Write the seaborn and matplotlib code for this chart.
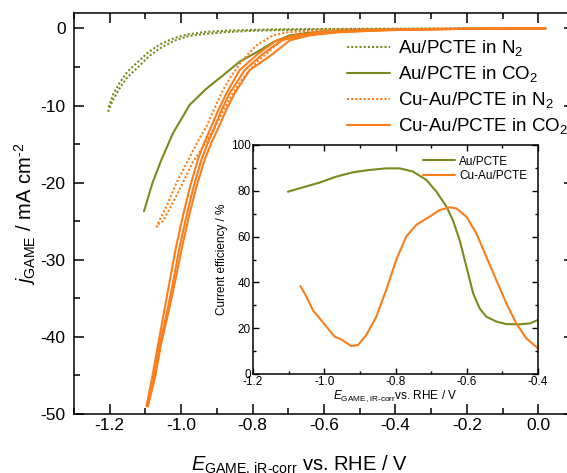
import numpy as np
import pandas as pd
import matplotlib
matplotlib.use("Agg")
import matplotlib.pyplot as plt
from matplotlib.ticker import MultipleLocator
import seaborn as sns

# ---------------- data ----------------
# Au/PCTE in N2 (two scans, dotted)
au_n2_x1 = [-1.205, -1.19, -1.17, -1.15, -1.12, -1.09, -1.06, -1.02, -0.98, -0.93, -0.88, -0.80, -0.70, -0.50, -0.30, 0.02]
au_n2_y1 = [-10.8, -9.2, -7.6, -6.3, -5.0, -3.6, -2.6, -1.6, -1.0, -0.7, -0.5, -0.3, -0.2, -0.1, -0.05, 0.0]
au_n2_x2 = [-1.203, -1.19, -1.17, -1.15, -1.12, -1.09, -1.06, -1.02, -0.98, -0.93, -0.88, -0.80, -0.70, -0.50, -0.30, 0.02]
au_n2_y2 = [-10.2, -8.5, -6.9, -5.6, -4.3, -3.0, -2.1, -1.25, -0.75, -0.45, -0.3, -0.18, -0.1, -0.05, -0.02, 0.0]

# Au/PCTE in CO2 (solid)
au_co2_x = [-1.104, -1.080, -1.055, -1.023, -0.976, -0.929, -0.883, -0.836, -0.789, -0.743, -0.696, -0.65, -0.60, -0.50, -0.40, -0.30, -0.20, -0.10, 0.02]
au_co2_y = [-23.7, -20.0, -17.0, -13.6, -9.9, -7.8, -6.1, -4.3, -3.1, -1.8, -0.9, -0.6, -0.4, -0.25, -0.15, -0.1, -0.05, -0.03, 0.0]

# Cu-Au/PCTE in N2 (two scans, dotted)
cuau_n2_x1 = [-1.069, -1.060, -1.041, -1.013, -0.985, -0.955, -0.929, -0.905, -0.883, -0.860, -0.836, -0.810, -0.789, -0.743, -0.70, -0.60, -0.40, -0.20, 0.02]
cuau_n2_y1 = [-25.8, -24.8, -23.1, -20.0, -17.5, -14.8, -12.7, -10.2, -8.0, -6.2, -4.6, -3.2, -2.2, -0.9, -0.5, -0.2, -0.08, -0.03, 0.0]
cuau_n2_x2 = [-1.065, -1.051, -1.023, -0.995, -0.967, -0.948, -0.925, -0.901, -0.878, -0.855, -0.832, -0.808, -0.785, -0.761, -0.738, -0.715, -0.68, -0.62, -0.50, -0.30, 0.02]
cuau_n2_y2 = [-25.4, -25.0, -22.6, -20.0, -17.3, -16.0, -14.3, -12.4, -10.3, -8.4, -6.8, -5.4, -4.2, -3.3, -2.3, -1.5, -0.9, -0.45, -0.2, -0.08, 0.0]

# Cu-Au/PCTE in CO2 (three scans, solid)
cuau_co2_y = [-49.0, -45.0, -41.1, -37.3, -33.5, -28.5, -24.3, -20.5, -17.0, -14.8, -13.2, -10.5, -8.4, -5.4, -3.3, -1.55, -0.9, -0.5, -0.3, -0.15, -0.05, 0.0]
cuau_co2_x1 = [-1.097, -1.080, -1.065, -1.050, -1.035, -1.015, -0.995, -0.975, -0.953, -0.935, -0.920, -0.895, -0.873, -0.836, -0.785, -0.733, -0.68, -0.60, -0.50, -0.40, -0.20, 0.02]
cuau_co2_x2 = [-1.095, -1.075, -1.060, -1.042, -1.025, -1.005, -0.985, -0.965, -0.943, -0.925, -0.910, -0.886, -0.864, -0.822, -0.771, -0.719, -0.66, -0.58, -0.48, -0.38, -0.20, 0.02]
cuau_co2_x3 = [-1.093, -1.072, -1.057, -1.038, -1.020, -0.998, -0.978, -0.957, -0.934, -0.915, -0.899, -0.873, -0.850, -0.808, -0.743, -0.696, -0.64, -0.56, -0.46, -0.36, -0.18, 0.02]

# Inset: current efficiency
ce_au_x = [-1.102, -1.060, -1.013, -0.966, -0.919, -0.873, -0.826, -0.788, -0.751, -0.713, -0.685, -0.657, -0.639, -0.620, -0.601, -0.582, -0.564, -0.545, -0.517, -0.489, -0.451, -0.423, -0.400]
ce_au_y = [79.6, 81.5, 83.6, 86.2, 88.1, 89.1, 89.8, 89.8, 88.4, 84.7, 79.6, 73.1, 67.2, 58.5, 46.9, 35.2, 28.7, 25.0, 22.9, 21.8, 21.7, 22.1, 23.6]
ce_cuau_x = [-1.067, -1.050, -1.032, -1.013, -0.994, -0.971, -0.952, -0.924, -0.905, -0.882, -0.854, -0.826, -0.798, -0.770, -0.742, -0.704, -0.676, -0.648, -0.629, -0.601, -0.573, -0.545, -0.517, -0.489, -0.461, -0.433, -0.400]
ce_cuau_y = [38.4, 33.8, 27.9, 24.3, 20.7, 16.3, 15.1, 12.2, 12.7, 17.0, 25.0, 36.7, 49.8, 60.0, 65.1, 68.7, 71.6, 72.8, 72.3, 68.7, 61.4, 51.2, 41.0, 30.9, 22.1, 15.6, 11.2]

labels = ["Au/PCTE in N$_2$", "Au/PCTE in CO$_2$", "Cu-Au/PCTE in N$_2$", "Cu-Au/PCTE in CO$_2$"]
inset_labels = ["Au/PCTE", "Cu-Au/PCTE"]

# ---------------- build tables ----------------
traces = [
    (labels[0], "a", au_n2_x1, au_n2_y1),
    (labels[0], "b", au_n2_x2, au_n2_y2),
    (labels[1], "a", au_co2_x, au_co2_y),
    (labels[2], "a", cuau_n2_x1, cuau_n2_y1),
    (labels[2], "b", cuau_n2_x2, cuau_n2_y2),
    (labels[3], "a", cuau_co2_x1, cuau_co2_y),
    (labels[3], "b", cuau_co2_x2, cuau_co2_y),
    (labels[3], "c", cuau_co2_x3, cuau_co2_y),
]
rows = []
for lab, scan, xs, ys in traces:
    for i, (xv, yv) in enumerate(zip(xs, ys)):
        rows.append({"E": xv, "j": yv, "series": lab, "scan": lab + scan, "i": i})
df = pd.DataFrame(rows)

rows2 = []
for lab, xs, ys in [(inset_labels[0], ce_au_x, ce_au_y), (inset_labels[1], ce_cuau_x, ce_cuau_y)]:
    for xv, yv in zip(xs, ys):
        rows2.append({"E": xv, "CE": yv, "series": lab})
df2 = pd.DataFrame(rows2)

OLIVE = "#7b8a1f"
ORANGE = "#fb7d1c"

# ---------------- style ----------------
sns.set_style("ticks")
plt.rcParams["font.family"] = ["Liberation Sans", "DejaVu Sans"]
plt.rcParams["mathtext.fontset"] = "custom"
plt.rcParams["mathtext.rm"] = "Liberation Sans"
plt.rcParams["mathtext.it"] = "Liberation Sans:italic"
plt.rcParams["mathtext.bf"] = "Liberation Sans:bold"
plt.rcParams["axes.linewidth"] = 1.1
plt.rcParams["axes.unicode_minus"] = False
for k in ["text.color", "axes.labelcolor", "xtick.color", "ytick.color", "axes.edgecolor"]:
    plt.rcParams[k] = "black"

fig = plt.figure(figsize=(5.67, 4.73), dpi=100)
ax = fig.add_axes([74 / 567, 1 - 414 / 473, 500 / 567, 401 / 473])

palette = {labels[0]: OLIVE, labels[1]: OLIVE, labels[2]: ORANGE, labels[3]: ORANGE}
dashes = {labels[0]: (1.0, 1.0), labels[1]: "", labels[2]: (1.0, 1.0), labels[3]: ""}
sns.lineplot(data=df, x="E", y="j", hue="series", style="series", units="scan",
             estimator=None, sort=False, palette=palette, dashes=dashes,
             hue_order=labels, style_order=labels, linewidth=1.5, ax=ax)

ax.set_xlim(-1.3, 0.1)
ax.set_ylim(-50, 2)
ax.xaxis.set_major_locator(MultipleLocator(0.2))
ax.xaxis.set_minor_locator(MultipleLocator(0.1))
ax.yaxis.set_major_locator(MultipleLocator(10))
ax.yaxis.set_minor_locator(MultipleLocator(5))
ax.xaxis.set_major_formatter(matplotlib.ticker.FuncFormatter(lambda v, p: f"{v:.1f}".replace("-0.0", "0.0")))
ax.tick_params(which="both", direction="in", top=True, right=True, labelsize=12.5, width=1.1)
ax.tick_params(which="major", length=7)
ax.tick_params(axis="x", which="major", pad=3)
ax.tick_params(axis="y", which="major", pad=6)
ax.tick_params(which="minor", length=4)
for s in ax.spines.values():
    s.set_visible(True)
ax.set_xlabel(r"$E_{\text{GAME, iR-corr}}$ vs. RHE / V", fontsize=14.5, labelpad=15)
ax.xaxis.label.set_x((300 - 74) / 500)
ax.set_ylabel(r"$j_{\text{GAME}}$ / mA cm$^{\text{-2}}$", fontsize=14.5, labelpad=2)

h, l = ax.get_legend_handles_labels()
leg = ax.legend(h, l, loc="upper left", bbox_to_anchor=(0.531, 1 - 18 / 401), frameon=False,
                fontsize=13.5, handlelength=2.3, handletextpad=0.4, labelspacing=0.32,
                borderaxespad=0.0)
for lh in leg.get_lines():
    lh.set_linewidth(1.5)

# ---------------- inset ----------------
axi = fig.add_axes([253 / 567, 1 - 374 / 473, 285 / 567, 229 / 473])
sns.lineplot(data=df2, x="E", y="CE", hue="series", hue_order=inset_labels,
             palette={inset_labels[0]: OLIVE, inset_labels[1]: ORANGE},
             estimator=None, sort=False, linewidth=1.5, ax=axi)
axi.set_xlim(-1.2, -0.4)
axi.set_ylim(0, 100)
axi.xaxis.set_major_locator(MultipleLocator(0.2))
axi.xaxis.set_minor_locator(MultipleLocator(0.1))
axi.yaxis.set_major_locator(MultipleLocator(20))
axi.yaxis.set_minor_locator(MultipleLocator(10))
axi.xaxis.set_major_formatter(matplotlib.ticker.FuncFormatter(lambda v, p: f"{v:.1f}"))
axi.tick_params(which="both", direction="in", top=True, right=True, labelsize=8.5, width=1.0)
axi.tick_params(which="major", length=4, pad=1.5)
axi.tick_params(which="minor", length=2)
axi.set_xlabel(r"$E_{\text{GAME, iR-corr}}$vs. RHE / V", fontsize=8.5, labelpad=0)
axi.set_ylabel("Current efficiency / %", fontsize=8.5, labelpad=2)
legi = axi.legend(loc="upper right", frameon=False, fontsize=8.5, handlelength=2.7,
                  handletextpad=0.4, labelspacing=0.2, borderaxespad=0.5)
for lh in legi.get_lines():
    lh.set_linewidth(1.5)

fig.savefig("out.png", dpi=100)
